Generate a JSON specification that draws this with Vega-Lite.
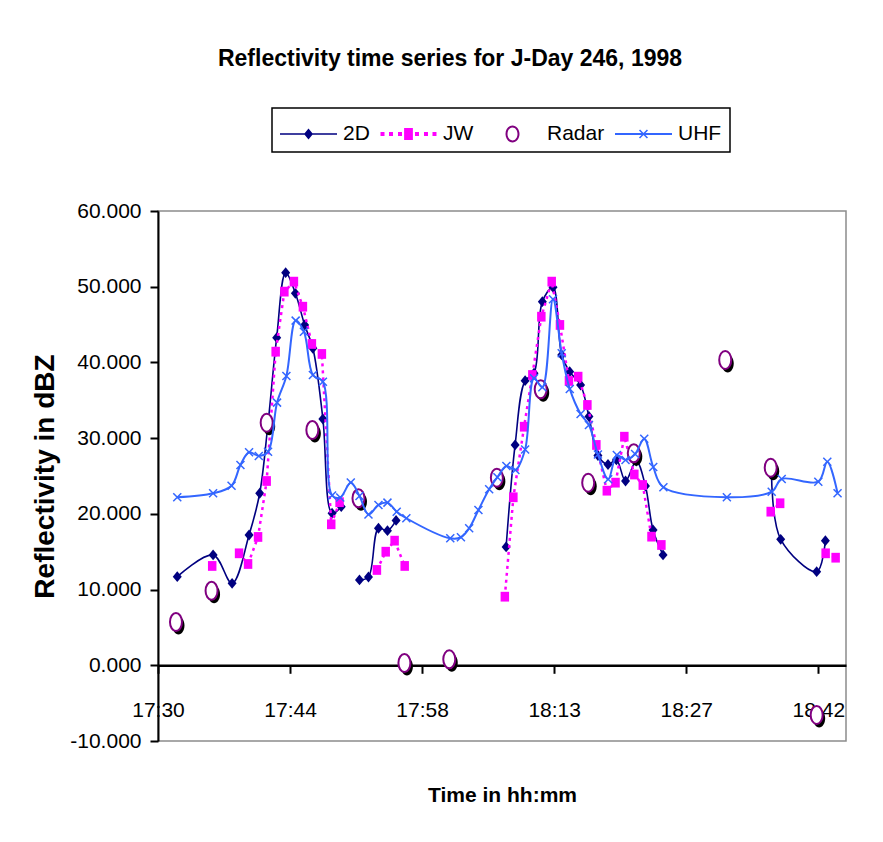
{
  "$schema": "https://vega.github.io/schema/vega-lite/v6.json",
  "width": 688,
  "height": 530,
  "autosize": "none",
  "padding": {"left": 158, "top": 211, "right": 37, "bottom": 101},
  "background": "white",
  "config": {
    "view": {"stroke": "#8c8c8c", "strokeWidth": 1.5},
    "font": "Liberation Sans"
  },
  "title": {
    "text": "Reflectivity time series for J-Day 246, 1998",
    "font": "Liberation Sans",
    "fontSize": 23,
    "fontWeight": "bold",
    "color": "black",
    "anchor": "middle",
    "frame": "group",
    "dx": -52,
    "offset": 36
  },
  "datasets": {
    "d2": [
      {"t": 1052.15, "v": 11.70, "seg": 1, "series": "2D"},
      {"t": 1056.06, "v": 14.57, "seg": 1, "series": "2D"},
      {"t": 1058.13, "v": 10.83, "seg": 1, "series": "2D"},
      {"t": 1059.98, "v": 17.21, "seg": 1, "series": "2D"},
      {"t": 1061.14, "v": 22.72, "seg": 1, "series": "2D"},
      {"t": 1062.01, "v": 31.5, "seg": 1, "series": "2D"},
      {"t": 1062.99, "v": 43.27, "seg": 1, "series": "2D"},
      {"t": 1063.97, "v": 51.86, "seg": 1, "series": "2D"},
      {"t": 1065.03, "v": 49.13, "seg": 1, "series": "2D"},
      {"t": 1066.04, "v": 44.95, "seg": 1, "series": "2D"},
      {"t": 1066.94, "v": 41.87, "seg": 1, "series": "2D"},
      {"t": 1068.03, "v": 32.53, "seg": 1, "series": "2D"},
      {"t": 1069.03, "v": 20.08, "seg": 1, "series": "2D"},
      {"t": 1070.03, "v": 20.95, "seg": 1, "series": "2D"},
      {"t": 1072.02, "v": 11.27, "seg": 2, "series": "2D"},
      {"t": 1073.0, "v": 11.66, "seg": 2, "series": "2D"},
      {"t": 1074.09, "v": 18.10, "seg": 2, "series": "2D"},
      {"t": 1075.07, "v": 17.78, "seg": 2, "series": "2D"},
      {"t": 1076.01, "v": 19.13, "seg": 2, "series": "2D"},
      {"t": 1088.01, "v": 15.63, "seg": 3, "series": "2D"},
      {"t": 1088.99, "v": 29.10, "seg": 3, "series": "2D"},
      {"t": 1090.08, "v": 37.59, "seg": 3, "series": "2D"},
      {"t": 1091.05, "v": 38.57, "seg": 3, "series": "2D"},
      {"t": 1091.96, "v": 48.03, "seg": 3, "series": "2D"},
      {"t": 1093.12, "v": 49.93, "seg": 3, "series": "2D"},
      {"t": 1094.07, "v": 40.99, "seg": 3, "series": "2D"},
      {"t": 1094.94, "v": 38.78, "seg": 3, "series": "2D"},
      {"t": 1096.13, "v": 37.02, "seg": 3, "series": "2D"},
      {"t": 1097.04, "v": 32.86, "seg": 3, "series": "2D"},
      {"t": 1098.02, "v": 27.71, "seg": 3, "series": "2D"},
      {"t": 1099.12, "v": 26.52, "seg": 3, "series": "2D"},
      {"t": 1100.03, "v": 27.12, "seg": 3, "series": "2D"},
      {"t": 1101.03, "v": 24.34, "seg": 3, "series": "2D"},
      {"t": 1102.2, "v": 26.98, "seg": 3, "series": "2D"},
      {"t": 1103.2, "v": 23.68, "seg": 3, "series": "2D"},
      {"t": 1104.03, "v": 17.87, "seg": 3, "series": "2D"},
      {"t": 1105.12, "v": 14.57, "seg": 3, "series": "2D"},
      {"t": 1116.95, "v": 25.3, "seg": 4, "series": "2D"},
      {"t": 1117.95, "v": 16.64, "seg": 4, "series": "2D"},
      {"t": 1121.87, "v": 12.36, "seg": 4, "series": "2D"},
      {"t": 1122.82, "v": 16.46, "seg": 4, "series": "2D"}
    ],
    "jw": [
      {"t": 1055.96, "v": 13.12, "seg": 1},
      {"t": 1058.89, "v": 14.79, "seg": 2},
      {"t": 1059.87, "v": 13.38, "seg": 2},
      {"t": 1060.96, "v": 16.95, "seg": 2},
      {"t": 1061.9, "v": 24.34, "seg": 2},
      {"t": 1062.88, "v": 41.42, "seg": 2},
      {"t": 1063.83, "v": 49.35, "seg": 2},
      {"t": 1064.87, "v": 50.67, "seg": 2},
      {"t": 1065.85, "v": 47.36, "seg": 2},
      {"t": 1066.83, "v": 42.44, "seg": 2},
      {"t": 1067.92, "v": 41.12, "seg": 2},
      {"t": 1068.94, "v": 18.62, "seg": 2},
      {"t": 1069.85, "v": 21.54, "seg": 2},
      {"t": 1073.92, "v": 12.59, "seg": 3},
      {"t": 1074.88, "v": 15.0, "seg": 3},
      {"t": 1075.85, "v": 16.46, "seg": 3},
      {"t": 1076.95, "v": 13.12, "seg": 3},
      {"t": 1087.87, "v": 9.06, "seg": 4},
      {"t": 1088.8, "v": 22.19, "seg": 4},
      {"t": 1089.97, "v": 31.51, "seg": 4},
      {"t": 1090.87, "v": 38.34, "seg": 4},
      {"t": 1091.85, "v": 46.04, "seg": 4},
      {"t": 1092.98, "v": 50.67, "seg": 4},
      {"t": 1093.88, "v": 44.95, "seg": 4},
      {"t": 1094.86, "v": 37.55, "seg": 4},
      {"t": 1095.87, "v": 38.12, "seg": 4},
      {"t": 1096.87, "v": 34.38, "seg": 4},
      {"t": 1097.85, "v": 29.10, "seg": 4},
      {"t": 1098.99, "v": 23.06, "seg": 4},
      {"t": 1099.94, "v": 24.12, "seg": 4},
      {"t": 1100.9, "v": 30.19, "seg": 4},
      {"t": 1101.99, "v": 25.2, "seg": 4},
      {"t": 1102.91, "v": 23.81, "seg": 4},
      {"t": 1103.86, "v": 16.99, "seg": 4},
      {"t": 1104.94, "v": 15.89, "seg": 4},
      {"t": 1116.86, "v": 20.29, "seg": 5},
      {"t": 1117.89, "v": 21.40, "seg": 5},
      {"t": 1122.85, "v": 14.79, "seg": 6},
      {"t": 1123.94, "v": 14.21, "seg": 6}
    ],
    "radar": [
      {"t": 1052.01, "v": 5.72},
      {"t": 1055.89, "v": 9.85},
      {"t": 1061.9, "v": 32.04},
      {"t": 1066.88, "v": 31.08},
      {"t": 1071.91, "v": 22.06},
      {"t": 1076.92, "v": 0.30},
      {"t": 1081.81, "v": 0.79},
      {"t": 1087.0, "v": 24.78},
      {"t": 1091.78, "v": 36.45},
      {"t": 1096.96, "v": 24.12},
      {"t": 1101.93, "v": 28.0},
      {"t": 1111.9, "v": 40.33},
      {"t": 1116.86, "v": 26.1},
      {"t": 1121.87, "v": -6.56}
    ],
    "uhf": [
      {"t": 1052.15, "v": 22.19},
      {"t": 1056.06, "v": 22.72},
      {"t": 1058.07, "v": 23.72},
      {"t": 1059.04, "v": 26.46},
      {"t": 1059.98, "v": 28.13},
      {"t": 1061.04, "v": 27.65},
      {"t": 1062.05, "v": 28.21},
      {"t": 1063.03, "v": 34.69},
      {"t": 1064.05, "v": 38.21},
      {"t": 1065.06, "v": 45.52},
      {"t": 1065.96, "v": 44.06},
      {"t": 1066.94, "v": 38.34},
      {"t": 1068.03, "v": 37.46},
      {"t": 1069.03, "v": 22.43},
      {"t": 1069.92, "v": 22.16},
      {"t": 1071.07, "v": 24.14},
      {"t": 1072.02, "v": 22.36},
      {"t": 1073.0, "v": 19.92},
      {"t": 1074.09, "v": 21.17},
      {"t": 1075.07, "v": 21.48},
      {"t": 1076.08, "v": 20.29},
      {"t": 1077.13, "v": 19.42},
      {"t": 1081.92, "v": 16.77},
      {"t": 1083.08, "v": 16.91},
      {"t": 1083.98, "v": 18.1},
      {"t": 1084.99, "v": 20.51},
      {"t": 1086.16, "v": 23.25},
      {"t": 1087.06, "v": 24.84},
      {"t": 1088.04, "v": 26.32},
      {"t": 1089.02, "v": 25.8},
      {"t": 1090.08, "v": 28.5},
      {"t": 1091.05, "v": 37.91},
      {"t": 1091.96, "v": 36.72},
      {"t": 1093.12, "v": 48.34},
      {"t": 1094.07, "v": 41.21},
      {"t": 1094.95, "v": 36.5},
      {"t": 1096.13, "v": 33.19},
      {"t": 1097.04, "v": 31.74},
      {"t": 1098.02, "v": 27.84},
      {"t": 1099.14, "v": 24.57},
      {"t": 1100.08, "v": 27.78},
      {"t": 1101.03, "v": 27.12},
      {"t": 1102.07, "v": 27.91},
      {"t": 1103.07, "v": 29.92},
      {"t": 1104.05, "v": 26.19},
      {"t": 1105.16, "v": 23.51},
      {"t": 1112.08, "v": 22.19},
      {"t": 1116.97, "v": 22.93},
      {"t": 1118.06, "v": 24.61},
      {"t": 1122.05, "v": 24.25},
      {"t": 1123.03, "v": 26.89},
      {"t": 1124.15, "v": 22.72}
    ]
  },
  "encoding": {
    "x": {
      "field": "t",
      "type": "quantitative",
      "scale": {"domain": [1050.05, 1125.07], "nice": false, "zero": false},
      "axis": {
        "values": [1050.05, 1064.45, 1078.85, 1093.25, 1107.65, 1122.05],
        "labelExpr": "['17:30','17:44','17:58','18:13','18:27','18:42'][round((datum.value-1050.05)/14.4)]",
        "offset": -75.7,
        "grid": false,
        "domainColor": "black",
        "domainWidth": 2.5,
        "tickColor": "black",
        "tickWidth": 2,
        "tickSize": 8,
        "labelFont": "Liberation Sans",
        "labelFontSize": 21,
        "labelColor": "black",
        "labelPadding": 26,
        "labelFlush": false,
        "labelOverlap": false,
        "labelBound": false,
        "title": "Time in hh:mm",
        "titleFont": "Liberation Sans",
        "titleFontSize": 21,
        "titleFontWeight": "bold",
        "titleColor": "black",
        "titlePadding": 64
      }
    },
    "y": {
      "field": "v",
      "type": "quantitative",
      "scale": {"domain": [-10, 60], "nice": false, "zero": false},
      "axis": {
        "values": [-10, 0, 10, 20, 30, 40, 50, 60],
        "labelExpr": "replace(format(datum.value, '.3f'), '\u2212', '-')",
        "grid": false,
        "domainColor": "black",
        "domainWidth": 2,
        "tickColor": "black",
        "tickWidth": 2,
        "tickSize": 8,
        "labelFont": "Liberation Sans",
        "labelFontSize": 21,
        "labelColor": "black",
        "labelPadding": 9,
        "labelOverlap": false,
        "labelBound": false,
        "labelFlush": false,
        "title": "Reflectivity in dBZ",
        "titleFont": "Liberation Sans",
        "titleFontSize": 28,
        "titleFontWeight": "bold",
        "titleColor": "black",
        "titlePadding": 10
      }
    }
  },
  "layer": [
    {
      "data": {"name": "d2"},
      "mark": {"type": "line", "interpolate": "catmull-rom", "strokeWidth": 1.6},
      "encoding": {
        "detail": {"field": "seg", "type": "nominal"},
        "color": {
          "field": "series",
          "type": "nominal",
          "scale": {"domain": ["2D", "JW", "Radar", "UHF"], "range": ["#000080", "#ff00ff", "#800080", "#3366ff"]},
          "legend": {
            "title": null,
            "orient": "none",
            "legendX": 114,
            "legendY": -103,
            "direction": "horizontal",
            "padding": 8,
            "strokeColor": "black",
            "fillColor": "white",
            "symbolSize": 1296,
            "labelFont": "Liberation Sans",
            "labelFontSize": 21,
            "labelColor": "black",
            "labelOffset": 27,
            "columnPadding": 10,
            "encode": {
              "legend": {"update": {"strokeWidth": {"value": 1.5}}},
              "symbols": {
                "update": {
                  "shape": {"signal": "datum.value==='2D' ? 'M-1,-0.045H2.167V0.045H-1Z M0.333,0L0.583,-0.306L0.833,0L0.583,0.306Z' : datum.value==='JW' ? 'M-0.972,-0.111h0.222v0.222h-0.222Z M-0.5,-0.111h0.222v0.222h-0.222Z M0,-0.111h0.222v0.222h-0.222Z M0.944,-0.111h0.222v0.222h-0.222Z M1.444,-0.111h0.222v0.222h-0.222Z M1.916,-0.111h0.222v0.222h-0.222Z M0.339,-0.328h0.488v0.656h-0.488Z' : datum.value==='Radar' ? 'M0.583,-0.472A0.389,0.472 0 1,1 0.583,0.472A0.389,0.472 0 1,1 0.583,-0.472Z M0.583,-0.361A0.278,0.361 0 1,0 0.583,0.361A0.278,0.361 0 1,0 0.583,-0.361Z' : 'M-1,-0.055H2.167V0.055H-1Z M0.333,-0.19L0.393,-0.25L0.833,0.19L0.773,0.25Z M0.333,0.19L0.773,-0.25L0.833,-0.19L0.393,0.25Z'"},
                  "size": {"value": 1296},
                  "fill": {"signal": "datum.value==='2D' ? '#000080' : datum.value==='JW' ? '#ff00ff' : datum.value==='Radar' ? '#800080' : '#3366ff'"},
                  "stroke": {"value": "transparent"},
                  "strokeWidth": {"value": 0},
                  "strokeDash": {"value": []},
                  "opacity": {"value": 1},
                  "fillOpacity": {"value": 1}
                }
              }
            }
          }
        }
      }
    },
    {
      "data": {"name": "d2"},
      "mark": {"type": "point", "shape": "M-1,0L0,-1.2L1,0L0,1.2Z", "size": 81, "filled": true, "fill": "#000080", "opacity": 1, "strokeWidth": 0}
    },
    {
      "data": {"name": "jw"},
      "mark": {"type": "line", "stroke": "#ff00ff", "strokeWidth": 2.5, "strokeDash": [3, 4]},
      "encoding": {"detail": {"field": "seg", "type": "nominal"}}
    },
    {
      "data": {"name": "jw"},
      "mark": {"type": "point", "shape": "M-1,-1.15H1V1.15H-1Z", "size": 72, "filled": true, "fill": "#ff00ff", "opacity": 1, "strokeWidth": 0}
    },
    {
      "data": {"name": "radar"},
      "mark": {"type": "point", "shape": "M0,-1.5A1,1.5 0 1,1 0,1.5A1,1.5 0 1,1 0,-1.5Z", "size": 144, "filled": true, "fill": "black", "opacity": 1, "strokeWidth": 0, "xOffset": 2.5, "yOffset": 3.5}
    },
    {
      "data": {"name": "radar"},
      "mark": {"type": "point", "shape": "M0,-1.5A1,1.5 0 1,1 0,1.5A1,1.5 0 1,1 0,-1.5Z", "size": 144, "filled": false, "fill": "white", "fillOpacity": 1, "stroke": "#800080", "strokeWidth": 2, "opacity": 1}
    },
    {
      "data": {"name": "uhf"},
      "mark": {"type": "line", "interpolate": "catmull-rom", "stroke": "#3366ff", "strokeWidth": 2}
    },
    {
      "data": {"name": "uhf"},
      "mark": {"type": "point", "shape": "M-1,-1L1,1M-1,1L1,-1", "size": 64, "filled": false, "stroke": "#3366ff", "strokeWidth": 1.5, "opacity": 1}
    }
  ]
}
